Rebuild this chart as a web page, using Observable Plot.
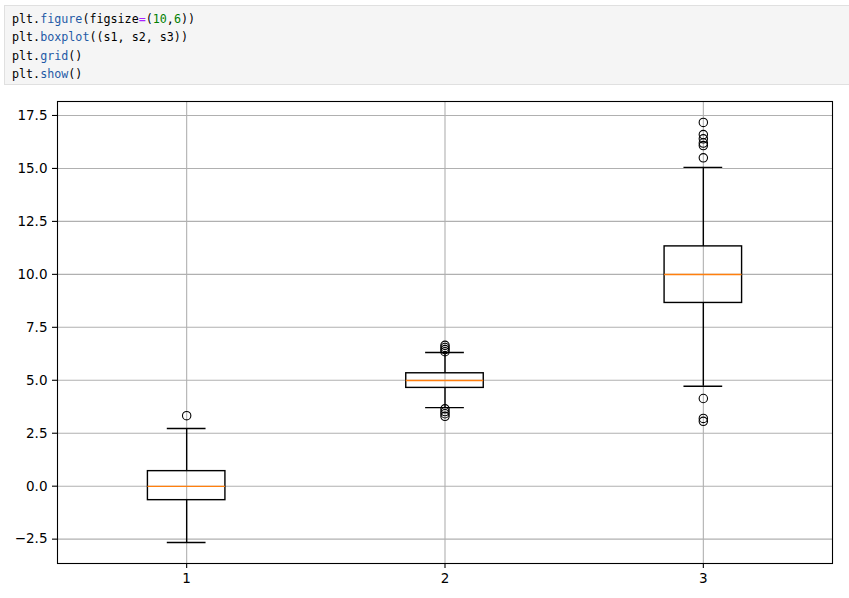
<!DOCTYPE html>
<html>
<head>
<meta charset="utf-8">
<script src="https://cdn.jsdelivr.net/npm/d3@7"></script>
<script src="https://cdn.jsdelivr.net/npm/@observablehq/plot@0.6"></script>
<style>
  html, body { margin: 0; padding: 0; background: #fff; width: 849px; height: 598px; overflow: hidden; }
  #code {
    position: absolute; left: 4px; top: 5px; width: 850px; height: 80px;
    background: #f5f5f5; border: 1px solid #e0e0e0; box-sizing: border-box;
    font-family: "DejaVu Sans Mono", "Liberation Mono", monospace; font-size: 11.7px;
    line-height: 18.3px; padding: 4px 0 0 7px; color: #000; white-space: pre;
  }
  .p { color: #1f5aa6; }
  .o { color: #aa22ff; }
  .n { color: #008000; }
  #chart { position: absolute; left: 0; top: 90px; }
</style>
</head>
<body>
<div id="code">plt.<span class="p">figure</span>(figsize<span class="o">=</span>(<span class="n">10</span>,<span class="n">6</span>))
plt.<span class="p">boxplot</span>((s1, s2, s3))
plt.<span class="p">grid</span>()
plt.<span class="p">show</span>()</div>
<div id="chart"></div>
<script>
// ---- data ----
const categories = [1, 2, 3];
const whiskerLow  = [-2.66, 3.71, 4.72];
const q1          = [-0.66, 4.64, 8.65];
const median      = [-0.01, 4.99, 9.99];
const q3          = [0.71, 5.33, 11.32];
const whiskerHigh = [2.72, 6.31, 15.05];
const outliers1 = [3.33];
const outliers2 = [6.65, 6.55, 6.45, 6.35, 3.65, 3.52, 3.42, 3.30];
const outliers3 = [17.17, 16.6, 16.4, 16.2, 16.08, 15.5, 4.14, 3.2, 3.06];
const yTicks = [-2.5, 0, 2.5, 5, 7.5, 10, 12.5, 15, 17.5];

const boxWidth = 0.3, capWidth = 0.15;

const boxes = categories.map((c, i) => ({
  cat: c, lo: whiskerLow[i], q1: q1[i], med: median[i], q3: q3[i], hi: whiskerHigh[i]
}));
const outlierData = [outliers1, outliers2, outliers3].flatMap((arr, i) =>
  arr.map(v => ({cat: categories[i], value: v})));

const lw = 1.4;
const chart = Plot.plot({
  width: 849,
  height: 508,
  marginTop: 11,
  marginBottom: 35,
  marginLeft: 57,
  marginRight: 17,
  style: {fontFamily: "DejaVu Sans", fontSize: "13.5px", color: "#000", background: "#fff"},
  x: {type: "linear", domain: [0.5, 3.5], label: null},
  y: {type: "linear", domain: [-3.65, 18.16], label: null},
  marks: [
    Plot.gridY(yTicks, {stroke: "#b0b0b0", strokeOpacity: 1, strokeWidth: 1.1}),
    Plot.gridX(categories, {stroke: "#b0b0b0", strokeOpacity: 1, strokeWidth: 1.1}),
    // whiskers
    Plot.ruleX(boxes, {x: "cat", y1: "q3", y2: "hi", stroke: "#000", strokeWidth: lw}),
    Plot.ruleX(boxes, {x: "cat", y1: "lo", y2: "q1", stroke: "#000", strokeWidth: lw}),
    // caps
    Plot.ruleY(boxes, {y: "hi", x1: d => d.cat - capWidth / 2, x2: d => d.cat + capWidth / 2, stroke: "#000", strokeWidth: lw}),
    Plot.ruleY(boxes, {y: "lo", x1: d => d.cat - capWidth / 2, x2: d => d.cat + capWidth / 2, stroke: "#000", strokeWidth: lw}),
    // box
    Plot.rect(boxes, {x1: d => d.cat - boxWidth / 2, x2: d => d.cat + boxWidth / 2, y1: "q1", y2: "q3", fill: "none", stroke: "#000", strokeWidth: lw}),
    // median
    Plot.ruleY(boxes, {y: "med", x1: d => d.cat - boxWidth / 2, x2: d => d.cat + boxWidth / 2, stroke: "#ff7f0e", strokeWidth: lw}),
    // outliers
    Plot.dot(outlierData, {x: "cat", y: "value", r: 4.2, fill: "none", stroke: "#000", strokeWidth: 1.1}),
    Plot.frame({stroke: "#000", strokeWidth: 1.1}),
    Plot.axisY(yTicks, {tickFormat: d3.format(".1f"), tickSize: 5, tickPadding: 5, stroke: "#000", strokeWidth: 1.1, label: null}),
    Plot.axisX(categories, {tickFormat: d => String(d), tickSize: 5, tickPadding: 5, stroke: "#000", strokeWidth: 1.1, label: null})
  ]
});
document.getElementById("chart").appendChild(chart);
</script>
</body>
</html>
